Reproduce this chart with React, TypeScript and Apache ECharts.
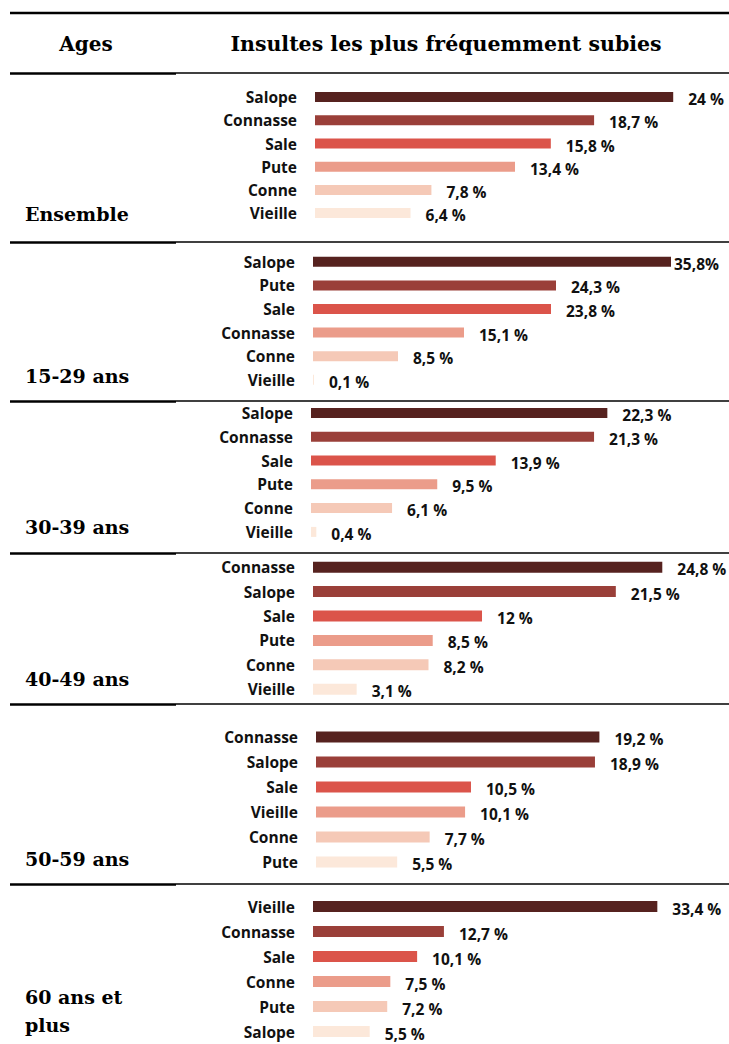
import React, { useEffect, useRef } from "react";
import * as echarts from "echarts";

// ---------- DATA ----------
const AGE_GROUPS = ["Ensemble", "15-29 ans", "30-39 ans", "40-49 ans", "50-59 ans", "60 ans et\nplus"];

const CATS_ENSEMBLE = ["Salope", "Connasse", "Sale", "Pute", "Conne", "Vieille"];
const VALS_ENSEMBLE = [24, 18.7, 15.8, 13.4, 7.8, 6.4];

const CATS_15_29 = ["Salope", "Pute", "Sale", "Connasse", "Conne", "Vieille"];
const VALS_15_29 = [35.8, 24.3, 23.8, 15.1, 8.5, 0.1];

const CATS_30_39 = ["Salope", "Connasse", "Sale", "Pute", "Conne", "Vieille"];
const VALS_30_39 = [22.3, 21.3, 13.9, 9.5, 6.1, 0.4];

const CATS_40_49 = ["Connasse", "Salope", "Sale", "Pute", "Conne", "Vieille"];
const VALS_40_49 = [24.8, 21.5, 12, 8.5, 8.2, 3.1];

const CATS_50_59 = ["Connasse", "Salope", "Sale", "Vieille", "Conne", "Pute"];
const VALS_50_59 = [19.2, 18.9, 10.5, 10.1, 7.7, 5.5];

const CATS_60 = ["Vieille", "Connasse", "Sale", "Conne", "Pute", "Salope"];
const VALS_60 = [33.4, 12.7, 10.1, 7.5, 7.2, 5.5];

const HEADER_AGES = "Ages";
const HEADER_INSULTS = "Insultes les plus fréquemment subies";

const PANELS = [
  { cats: CATS_ENSEMBLE, vals: VALS_ENSEMBLE },
  { cats: CATS_15_29, vals: VALS_15_29 },
  { cats: CATS_30_39, vals: VALS_30_39 },
  { cats: CATS_40_49, vals: VALS_40_49 },
  { cats: CATS_50_59, vals: VALS_50_59 },
  { cats: CATS_60, vals: VALS_60 },
];

// ---------- LAYOUT / STYLE ----------
const RANK_COLORS = ["#56221F", "#9A3F39", "#DB544A", "#EB9C8A", "#F5C9B7", "#FCE8DA"];
const GRID_WIDTH = 400;
const AXIS_MAX = [26.8, 40, 30.1, 28.4, 27.1, 38.8];
const GRID_LEFT = [315, 313, 311, 313, 316, 313];
const GRID_TOP = [85.5, 250, 401, 555, 724.5, 894];
const ROW_STEP = [23.2, 23.6, 23.8, 24.4, 25, 25.8];
const BAR_W = [10, 10, 10, 11, 11, 11];
const AGE_LABEL_Y = [214, 376, 527, 679, 859, 1011];
const SEPARATORS = [73, 242, 401, 553, 704, 884];

const fmt = (v: number) => String(v).replace(".", ",") + " %";

const SANS = '"Open Sans", "Noto Sans", sans-serif';
const SERIF = '"DejaVu Serif", serif';
const SANS_SIZE = 15.5;

export default function App() {
  const ref = useRef<HTMLDivElement>(null);

  useEffect(() => {
    if (!ref.current) return;
    const chart = echarts.init(ref.current, undefined, { renderer: "svg" });

    const grids: any[] = [];
    const xAxes: any[] = [];
    const yAxes: any[] = [];
    const series: any[] = [];

    PANELS.forEach((p, i) => {
      grids.push({
        left: GRID_LEFT[i],
        top: GRID_TOP[i],
        width: GRID_WIDTH,
        height: ROW_STEP[i] * p.cats.length,
        containLabel: false,
      });
      xAxes.push({
        type: "value",
        gridIndex: i,
        min: 0,
        max: AXIS_MAX[i],
        show: false,
        splitLine: { show: false },
      });
      yAxes.push({
        type: "category",
        gridIndex: i,
        inverse: true,
        data: p.cats,
        axisLine: { show: false },
        axisTick: { show: false },
        splitLine: { show: false },
        axisLabel: {
          margin: 18,
          color: "#111",
          fontFamily: SANS,
          fontWeight: "bold",
          fontSize: SANS_SIZE,
        },
      });
      series.push({
        type: "bar",
        xAxisIndex: i,
        yAxisIndex: i,
        barWidth: BAR_W[i],
        data: p.vals.map((v, j) => {
          const tight = i === 1 && j === 0;
          return {
            value: v,
            itemStyle: { color: RANK_COLORS[j] },
            label: tight
              ? { distance: 3, formatter: () => String(v).replace(".", ",") + "%" }
              : undefined,
          };
        }),
        label: {
          show: true,
          position: "right",
          distance: 15,
          offset: [0, 2],
          color: "#111",
          fontFamily: SANS,
          fontWeight: "bold",
          fontSize: SANS_SIZE,
          formatter: (prm: any) => fmt(prm.value),
        },
      });
    });

    const graphic: any[] = [];
    graphic.push({
      type: "line",
      shape: { x1: 10, y1: 13, x2: 729, y2: 13 },
      style: { stroke: "#000", lineWidth: 2.5 },
    });
    SEPARATORS.forEach((y) => {
      graphic.push({
        type: "line",
        shape: { x1: 176, y1: y, x2: 729, y2: y },
        style: { stroke: "#000", lineWidth: 1.4 },
      });
      graphic.push({
        type: "line",
        shape: { x1: 10, y1: y + 0.5, x2: 176, y2: y + 0.5 },
        style: { stroke: "#000", lineWidth: 2.6 },
      });
    });
    graphic.push({
      type: "text",
      x: 86,
      y: 44,
      style: {
        text: HEADER_AGES,
        fontFamily: SERIF,
        fontWeight: "bold",
        fontSize: 20,
        fill: "#000",
        align: "center",
        verticalAlign: "middle",
      },
    });
    graphic.push({
      type: "text",
      x: 446,
      y: 44,
      style: {
        text: HEADER_INSULTS,
        fontFamily: SERIF,
        fontWeight: "bold",
        fontSize: 20.5,
        fill: "#000",
        align: "center",
        verticalAlign: "middle",
      },
    });
    AGE_GROUPS.forEach((g, i) => {
      graphic.push({
        type: "text",
        x: 25,
        y: AGE_LABEL_Y[i],
        style: {
          text: g,
          fontFamily: SERIF,
          fontWeight: "bold",
          fontSize: 19,
          lineHeight: 28,
          fill: "#000",
          align: "left",
          verticalAlign: "middle",
        },
      });
    });

    chart.setOption({
      animation: false,
      backgroundColor: "#ffffff",
      grid: grids,
      xAxis: xAxes,
      yAxis: yAxes,
      series,
      graphic,
    });

    return () => chart.dispose();
  }, []);

  return (
    <div
      ref={ref}
      style={{ position: "fixed", left: 0, top: 0, width: 729, height: 1044, background: "#fff" }}
    />
  );
}
